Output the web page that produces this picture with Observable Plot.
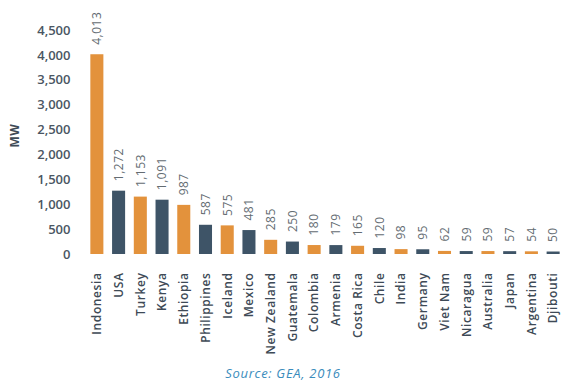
<!DOCTYPE html>
<html>
<head>
<meta charset="utf-8">
<script src="https://cdn.jsdelivr.net/npm/d3@7"></script>
<script src="https://cdn.jsdelivr.net/npm/@observablehq/plot@0.6"></script>
<style>
  html, body { margin: 0; padding: 0; background: #fff; }
  #chart { width: 566px; height: 364px; }
  #caption { width: 566px; text-align: center; font-family: "Open Sans", sans-serif; font-style: italic; font-size: 13px; color: #3a8cbc; letter-spacing: 0.7px; line-height: 16px; margin-top: 1px; }
</style>
</head>
<body>
<div id="chart"></div>
<div id="caption">Source: GEA, 2016</div>
<script>
const countries = ["Indonesia","USA","Turkey","Kenya","Ethiopia","Philippines","Iceland","Mexico","New Zealand","Guatemala","Colombia","Armenia","Costa Rica","Chile","India","Germany","Viet Nam","Nicaragua","Australia","Japan","Argentina","Djibouti"];
const mw = [4013,1272,1153,1091,987,587,575,481,285,250,180,179,165,120,98,95,62,59,59,57,54,50];
const groups = ["orange","dark","orange","dark","orange","dark","orange","dark","orange","dark","orange","dark","orange","dark","orange","dark","orange","dark","orange","dark","orange","dark"];
const yTicks = [0,500,1000,1500,2000,2500,3000,3500,4000,4500];

const data = countries.map((c, i) => ({country: c, value: mw[i], group: groups[i]}));
const fmt = d3.format(",");

const chart = Plot.plot({
  width: 566,
  height: 364,
  marginLeft: 86,
  marginRight: 2,
  marginTop: 30,
  marginBottom: 110,
  style: {fontFamily: "Open Sans, sans-serif", background: "#fff"},
  x: {domain: countries, paddingInner: 0.4, paddingOuter: 0.2, round: false, label: null},
  y: {domain: [0, 4500], label: null},
  color: {domain: ["orange","dark"], range: ["#e3923c","#3e5467"]},
  marks: [
    Plot.barY(data, {x: "country", y: "value", fill: "group"}),
    Plot.text(data, {x: "country", y: "value", text: d => fmt(d.value), rotate: -90, textAnchor: "start", dy: -10, fill: "#646c72", fontSize: 12, fontWeight: 400}),
    Plot.axisY({ticks: yTicks, tickFormat: fmt, tickSize: 0, tickPadding: 16, fontSize: 13, fontWeight: 600, color: "#4a5663", label: null}),
    Plot.text(["MW"], {frameAnchor: "left", dx: -71, dy: 5, rotate: -90, fontSize: 12, fontWeight: 700, fill: "#3e4a56"}),
    Plot.axisX({tickRotate: -90, tickSize: 0, tickPadding: 18, fontSize: 12, fontWeight: 600, color: "#3e4a56", label: null})
  ]
});
document.getElementById("chart").appendChild(chart);
chart.querySelectorAll('g[aria-label="x-axis tick label"] text').forEach(t => t.style.letterSpacing = "0.6px");
chart.querySelectorAll('g[aria-label="text"] text').forEach(t => t.style.letterSpacing = "0.5px");
</script>
</body>
</html>
